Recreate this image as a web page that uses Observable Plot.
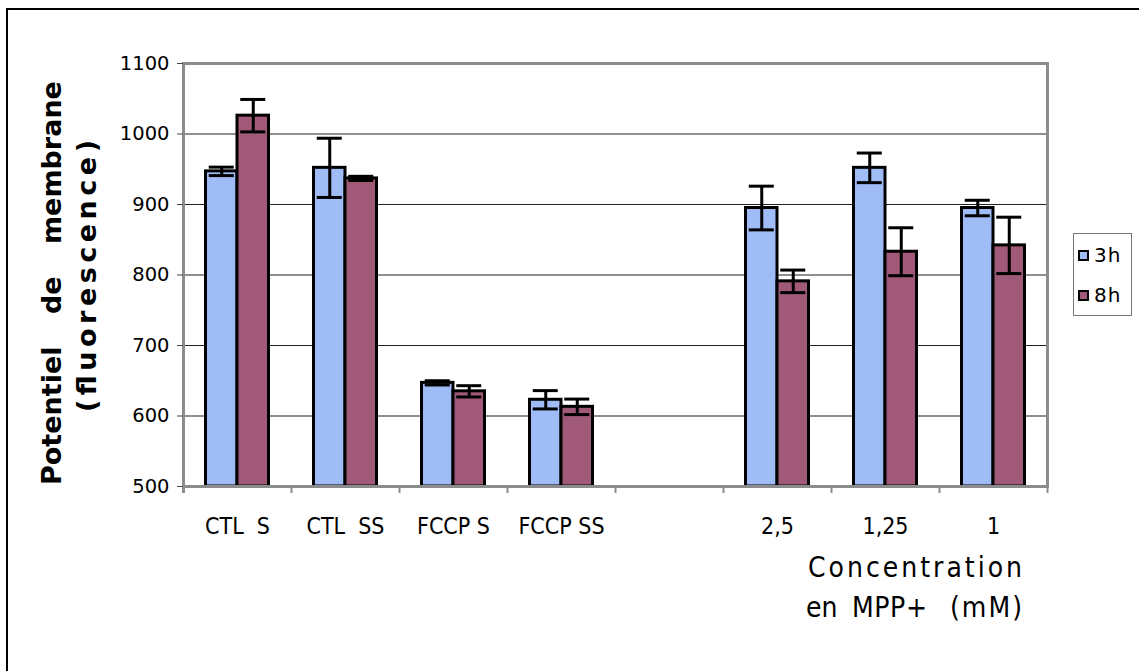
<!DOCTYPE html>
<html><head><meta charset="utf-8">
<script src="https://cdn.jsdelivr.net/npm/d3@7"></script>
<script src="https://cdn.jsdelivr.net/npm/@observablehq/plot@0.6"></script>
<style>
html,body{margin:0;padding:0;background:#fff;}
#wrap{position:relative;width:1139px;height:671px;overflow:hidden;background:#fff;}
#wrap svg{position:absolute;left:0;top:0;}
#border{position:absolute;left:6px;top:8px;width:1200px;height:700px;border-left:2px solid #000;border-top:2px solid #000;z-index:2;}
svg text{white-space:pre;}
#legend{position:absolute;left:1073px;top:233px;width:57px;height:81px;border:1px solid #777;background:#fff;font-family:"DejaVu Sans",sans-serif;font-size:20px;z-index:3;}
.row{position:absolute;left:4px;height:24px;display:flex;align-items:center;letter-spacing:1px;}
.sw{width:7px;height:7px;border:2.5px solid #000;margin-right:5px;}
</style></head><body><div id="wrap"></div>
<script>
// ---- data ----
const categories = ["CTL  S", "CTL  SS", "FCCP S", "FCCP SS", "", "2,5", "1,25", "1"];
const series = ["3h", "8h"];
const values3h = [947, 952, 647, 623, null, 895, 952, 895];
const values8h = [1026, 937, 635, 613, null, 791, 833, 842];
const errors3h = [6, 42, 3, 13, null, 31, 21, 11];
const errors8h = [23, 3, 8, 11, null, 16, 34, 40];
const yTicks = [500, 600, 700, 800, 900, 1000, 1100];
const colors = ["#a0bcf6", "#a05a78"];

// ---- layout ----
const W = 1139, H = 671, mL = 183, mR = 92, mT = 63, mB = 185;
const bw = (W - mL - mR) / categories.length;
const barW = 31.5, capW = 25;
const pxPerUnit = (H - mT - mB) / (yTicks[yTicks.length - 1] - yTicks[0]);

const valuesBy = {"3h": values3h, "8h": values8h};
const errorsBy = {"3h": errors3h, "8h": errors8h};
const rows = categories.flatMap((c, i) => c === "" ? [] :
  series.map(s => ({category: c, series: s, value: valuesBy[s][i], err: errorsBy[s][i]})));

function seriesMarks(s, sg) {
  const data = rows.filter(d => d.series === s);
  const c = bw / 2 + sg * barW / 2;
  return [
    Plot.barY(data, {
      x: "category", y1: () => yTicks[0], y2: "value", fill: "series",
      stroke: "#000", strokeWidth: 3,
      insetLeft: sg < 0 ? bw / 2 - barW : bw / 2,
      insetRight: sg < 0 ? bw / 2 : bw / 2 - barW
    }),
    Plot.ruleX(data, {x: "category", y1: d => d.value - d.err, y2: d => d.value + d.err,
      dx: sg * barW / 2, stroke: "#000", strokeWidth: 3}),
    Plot.tickY(data, {x: "category", y: d => d.value + d.err, stroke: "#000", strokeWidth: 3,
      insetLeft: c - capW / 2, insetRight: bw - c - capW / 2}),
    Plot.tickY(data, {x: "category", y: d => d.value - d.err, stroke: "#000", strokeWidth: 3,
      insetLeft: c - capW / 2, insetRight: bw - c - capW / 2})
  ];
}

const narrow = '"Liberation Sans Narrow", "DejaVu Sans Condensed", "Arial Narrow", sans-serif';

const plot = Plot.plot({
  width: W, height: H,
  marginLeft: mL, marginRight: mR, marginTop: mT, marginBottom: mB,
  style: {fontFamily: '"DejaVu Sans", sans-serif', background: "transparent", overflow: "visible"},
  x: {type: "band", domain: categories, padding: 0},
  y: {domain: [yTicks[0], yTicks[yTicks.length - 1]]},
  color: {domain: series, range: colors},
  marks: [
    Plot.gridY(yTicks.slice(1, -1), {stroke: "#222", strokeOpacity: 1, strokeWidth: 1.2}),
    ...seriesMarks("3h", -1),
    ...seriesMarks("8h", 1),
    Plot.frame({stroke: "#8c8c8c", strokeWidth: 3}),
    Plot.ruleX(categories, {x: d => d, dx: bw / 2, y1: yTicks[0], y2: yTicks[0] - 7 / pxPerUnit, stroke: "#8c8c8c", strokeWidth: 2}),
    Plot.ruleX(categories.slice(0, 1), {x: d => d, dx: -bw / 2, y1: yTicks[0], y2: yTicks[0] - 7 / pxPerUnit, stroke: "#8c8c8c", strokeWidth: 3}),
    Plot.axisY({ticks: yTicks, tickFormat: d => String(d), tickSize: 6, tickPadding: 8,
      fontSize: 19.5, stroke: "#444", label: null}),
    Plot.axisX({tickSize: 0, tickPadding: 31, fontSize: 23, fontFamily: narrow, label: null})
  ]
});

document.getElementById("wrap").appendChild(plot);
const svg = d3.select(plot);

// y-axis title (two lines, rotated)
svg.append("text")
  .attr("transform", "translate(61,485) rotate(-90)")
  .attr("text-anchor", "start")
  .style("font-family", '"DejaVu Sans", sans-serif').style("font-weight", "bold")
  .style("font-size", "27px").style("word-spacing", "23px").attr("fill", "#000")
  .text("Potentiel de membrane");
svg.append("text")
  .attr("transform", "translate(96,412) rotate(-90)")
  .attr("text-anchor", "start")
  .attr("textLength", 272).attr("lengthAdjust", "spacing")
  .style("font-family", '"DejaVu Sans", sans-serif').style("font-weight", "bold")
  .style("font-size", "27px").attr("fill", "#000")
  .text("(fluorescence)");

// x-axis title (two lines, right)
const xt = [
  {t: "Concentration", x: 808, y: 577, len: 214},
  {t: "en", x: 806, y: 617, len: null},
  {t: "MPP+", x: 852, y: 617, len: 75},
  {t: "(mM)", x: 950, y: 617, len: 72}
];
xt.forEach(d => {
  const t = svg.append("text")
    .attr("x", d.x).attr("y", d.y)
    .attr("text-anchor", "start")
    .style("font-family", narrow).style("font-size", "28px").attr("fill", "#000")
    .text(d.t);
  if (d.len) t.attr("textLength", d.len).attr("lengthAdjust", "spacing");
});

// outer border
const b = document.createElement("div"); b.id = "border";
document.getElementById("wrap").appendChild(b);

// legend
const color = plot.scale("color");
const lg = document.createElement("div"); lg.id = "legend";
series.forEach((s, i) => {
  const r = document.createElement("div"); r.className = "row";
  r.style.top = (9 + i * 40) + "px";
  const sw = document.createElement("span"); sw.className = "sw";
  sw.style.background = color.apply(s);
  const tx = document.createElement("span"); tx.textContent = s;
  r.appendChild(sw); r.appendChild(tx); lg.appendChild(r);
});
document.getElementById("wrap").appendChild(lg);
</script></body></html>
